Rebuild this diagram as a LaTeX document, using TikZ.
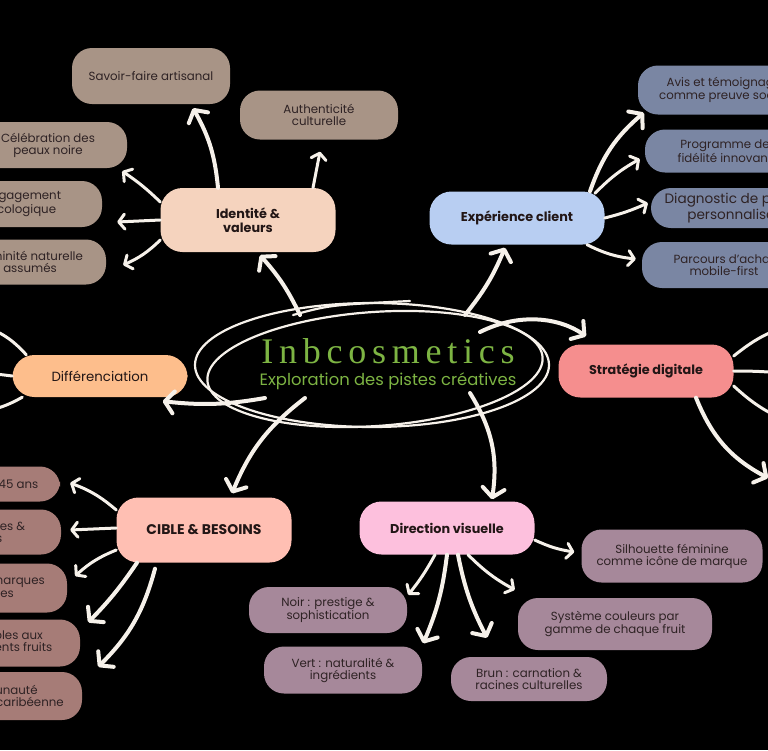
\documentclass[tikz,border=0pt]{standalone}
\usepackage{fontspec}
\setmainfont{Poppins}
\newfontfamily\titlefont[LetterSpace=16]{Liberation Serif}
\usetikzlibrary{arrows.meta,shapes.geometric}

\definecolor{cream}{HTML}{F6F1EA}
\definecolor{titlegreen}{HTML}{7DB443}
\definecolor{inkdark}{HTML}{221616}
\definecolor{inkleaf}{HTML}{2E2224}
\definecolor{identfill}{HTML}{F5D3BE}
\definecolor{expfill}{HTML}{B8CEF2}
\definecolor{stratfill}{HTML}{F58E8E}
\definecolor{difffill}{HTML}{FDBE8C}
\definecolor{ciblefill}{HTML}{FFBFB3}
\definecolor{dirfill}{HTML}{FDC0DD}
\definecolor{taupe}{HTML}{A89486}
\definecolor{slate}{HTML}{7A86A3}
\definecolor{rosebrown}{HTML}{A67C77}
\definecolor{mauve}{HTML}{A6889A}

\tikzset{
  branch/.style={rounded corners=22pt, minimum width=175pt, minimum height=53pt,
    inner sep=0pt, align=center, text=inkdark, font=\bfseries\fontsize{12.8}{14}\selectfont},
  leaf/.style={rounded corners=20pt, minimum width=158pt, minimum height=47pt,
    inner sep=0pt, align=center, text=inkleaf, font=\fontsize{11.8}{12}\selectfont},
  arr/.style={draw=cream, line width=3pt, line cap=round,
    -{Straight Barb[length=6pt,width=15pt,round]}},
  bigarr/.style={arr, line width=4pt, -{Straight Barb[length=9pt,width=22pt,round]}},
  sketch/.style={draw=cream, line width=2.2pt, line cap=round}
}

\begin{document}
\begin{tikzpicture}[x=1pt,y=-1pt]
  \useasboundingbox (0,0) rectangle (768,750);
  \fill[black] (0,0) rectangle (768,750);
  \clip (0,0) rectangle (768,750);

  % centre
  \node[ellipse, draw=cream, line width=2.2pt, minimum width=354pt, minimum height=124pt] (hub) at (372,365) {};
  \draw[sketch] (375,369) ellipse [x radius=168, y radius=57, rotate=4];
  \draw[sketch] (293,315) .. controls (330,305) .. (410,301);
  \node[anchor=base, text=titlegreen, font=\titlefont\fontsize{36}{36}\selectfont] (title) at (388,363) {Inbcosmetics};
  \node[anchor=base, text=titlegreen, font=\fontsize{16.4}{18}\selectfont] (subtitle) at (388,385) {Exploration des pistes créatives};

  % branches
  \node[branch, fill=identfill, minimum height=64pt] (ident) at (248,220) {Identité \&\\valeurs};
  \node[branch, fill=expfill] (exp) at (517,218) {Expérience client};
  \node[branch, fill=stratfill] (strat) at (646,371) {Stratégie digitale};
  \node[branch, fill=difffill, minimum height=42pt, font=\fontsize{13.3}{15}\selectfont] (diff) at (100,376) {Différenciation};
  \node[branch, fill=ciblefill, minimum height=65pt, font=\bfseries\fontsize{14}{16}\selectfont] (cible) at (204,530) {CIBLE \& BESOINS};
  \node[branch, fill=dirfill] (dir) at (447,528) {Direction visuelle};

  % identite et valeurs
  \node[leaf, fill=taupe, minimum height=56pt] (savoir) at (151,76) {Savoir-faire artisanal};
  \node[leaf, fill=taupe, minimum height=49pt] (auth) at (319,115) {Authenticité\\culturelle};
  \node[leaf, fill=taupe, minimum height=46pt] (celeb) at (48,145) {Célébration des\\peaux noire};
  \node[leaf, fill=taupe, minimum height=46pt] (engag) at (23,204) {Engagement\\écologique};
  \node[leaf, fill=taupe, minimum width=152pt, minimum height=45pt] (femin) at (30,262) {Féminité naturelle\\assumés};

  % experience client
  \node[leaf, fill=slate, minimum width=178pt, minimum height=49pt] (avis) at (727,90) {Avis et témoignages\\comme preuve sociale};
  \node[leaf, fill=slate, minimum width=160pt, minimum height=43pt] (prog) at (725,151) {Programme de\\fidélité innovant};
  \node[leaf, fill=slate, minimum width=160pt, minimum height=40pt, font=\fontsize{13.6}{13.5}\selectfont] (diag) at (731,208) {Diagnostic de peau\\personnalisé};
  \node[leaf, fill=slate, minimum width=164pt, minimum height=46pt] (parc) at (724,265) {Parcours d'achat\\mobile-first};

  % cible et besoins
  \node[leaf, fill=rosebrown, minimum width=158pt, minimum height=35pt] (age) at (-19,484) {Femmes 25-45 ans};
  \node[leaf, fill=rosebrown, minimum width=172pt, minimum height=45pt] (peaux) at (-25,532) {Peaux matures \&\\sensibles};
  \node[leaf, fill=rosebrown, minimum width=166pt, minimum height=49pt] (marques) at (-16,588) {Fidèles aux marques\\engagées};
  \node[leaf, fill=rosebrown, minimum width=154pt, minimum height=47pt] (fruits) at (3,643) {Sensibles aux\\ingrédients fruits};
  \node[leaf, fill=rosebrown, minimum width=172pt, minimum height=48pt] (carib) at (-4,696) {Communauté\\antillaise \& caribéenne};

  % direction visuelle
  \node[leaf, fill=mauve, minimum width=181pt, minimum height=53pt] (sil) at (672,556) {Silhouette féminine\\comme icône de marque};
  \node[leaf, fill=mauve, minimum height=46pt] (noir) at (328,610) {Noir : prestige \&\\sophistication};
  \node[leaf, fill=mauve, minimum height=47pt] (vert) at (343,670) {Vert : naturalité \&\\ingrédients};
  \node[leaf, fill=mauve, minimum width=194pt, minimum height=52pt] (sys) at (615,624) {Système couleurs par\\gamme de chaque fruit};
  \node[leaf, fill=mauve, minimum width=156pt, minimum height=44pt] (brun) at (529,679) {Brun : carnation \&\\racines culturelles};

  % hors cadre
  \coordinate (sa) at (790,325);
  \coordinate (sb) at (790,374);
  \coordinate (sc) at (790,422);
  \coordinate (sd) at (768,478);
  \coordinate (da) at (-20,325);
  \coordinate (db) at (-20,372);
  \coordinate (dc) at (-20,412);

  % fleches du centre
  \draw[bigarr] ([shift={(-72pt,50pt)}]hub.center) to[bend right=8] ([xshift=12pt,yshift=-3pt]ident.south);
  \draw[bigarr] ([shift={(93pt,50pt)}]hub.center) to[bend right=8] ([xshift=-12pt,yshift=-3pt]exp.south);
  \draw[bigarr] ([shift={(108pt,33pt)}]hub.center) .. controls (520,312) and (560,318) .. ([xshift=-60pt,yshift=8pt]strat.north);
  \draw[bigarr] ([shift={(-67pt,-33pt)}]hub.center) to[bend right=15] ([xshift=28pt,yshift=4pt]cible.north);
  \draw[bigarr] ([shift={(98pt,-28pt)}]hub.center) to[bend left=20] ([xshift=45pt,yshift=2pt]dir.north);
  \draw[bigarr] ([shift={(-107pt,-33pt)}]hub.center) to[bend left=8] ([xshift=-25pt,yshift=-4pt]diff.south east);

  % identite
  \draw[bigarr] ([xshift=-30pt]ident.north) to[bend right=12] ([xshift=42pt,yshift=-4pt]savoir.south);
  \draw[arr] ([xshift=65pt]ident.north) -- ([xshift=1pt,yshift=-12pt]auth.south);
  \draw[arr] ([yshift=18pt]ident.west) to[bend right=5] ([xshift=-5pt,yshift=-3pt]celeb.south east);
  \draw[arr] (ident.west) -- ([xshift=15pt,yshift=-18pt]engag.east);
  \draw[arr] ([yshift=-20pt]ident.west) to[bend left=10] ([xshift=17pt,yshift=-3pt]femin.east);

  % experience
  \draw[bigarr] ([xshift=73pt]exp.north) to[bend left=15] ([xshift=6pt,yshift=2pt]avis.south west);
  \draw[arr] ([xshift=78pt,yshift=-2pt]exp.north) to[bend left=8] ([xshift=-5pt,yshift=-8pt]prog.west);
  \draw[arr] (exp.east) to[bend right=5] ([xshift=-3pt,yshift=5pt]diag.west);
  \draw[arr] ([xshift=70pt]exp.south) to[bend right=10] ([xshift=-6pt,yshift=6pt]parc.west);

  % strategie
  \draw[arr] ([yshift=15pt]strat.east) to[bend left=10] (sa);
  \draw[arr] (strat.east) to[bend left=3] (sb);
  \draw[arr] ([yshift=-15pt]strat.east) to[bend right=10] (sc);
  \draw[bigarr] ([xshift=50pt]strat.south) to[bend right=20] (sd);

  % differenciation
  \draw[arr, -] ([xshift=14pt]diff.north west) to[bend right=15] (da);
  \draw[arr, -] (diff.west) -- (db);
  \draw[arr, -] ([xshift=10pt]diff.south west) to[bend left=10] (dc);

  % cible
  \draw[arr] ([yshift=20pt]cible.west) to[bend right=10] ([xshift=10pt,yshift=1pt]age.east);
  \draw[arr] ([yshift=2pt]cible.west) -- ([xshift=9pt,yshift=2pt]peaux.east);
  \draw[arr] ([yshift=-20pt]cible.west) to[bend right=10] ([xshift=8pt,yshift=12pt]marques.east);
  \draw[bigarr] ([xshift=-67pt]cible.south) to[bend left=5] ([xshift=8pt,yshift=-3pt]fruits.north east);
  \draw[bigarr] ([xshift=-49pt,yshift=-6pt]cible.south) to[bend left=15] ([xshift=16pt,yshift=5pt]carib.north east);

  % direction
  \draw[arr] ([yshift=-12pt]dir.east) to[bend right=8] ([xshift=-7pt,yshift=4pt]sil.west);
  \draw[arr] ([xshift=-12pt]dir.south) to[bend left=5] ([xshift=1pt,yshift=-8pt]noir.north east);
  \draw[bigarr] (dir.south) to[bend left=8] ([xshift=1pt,yshift=3pt]vert.north east);
  \draw[bigarr] ([xshift=11pt]dir.south) to[bend right=8] ([xshift=-42pt,yshift=19pt]brun.north);
  \draw[arr] ([xshift=21pt]dir.south) to[bend right=8] ([xshift=-3pt,yshift=8pt]sys.north west);
\end{tikzpicture}
\end{document}
